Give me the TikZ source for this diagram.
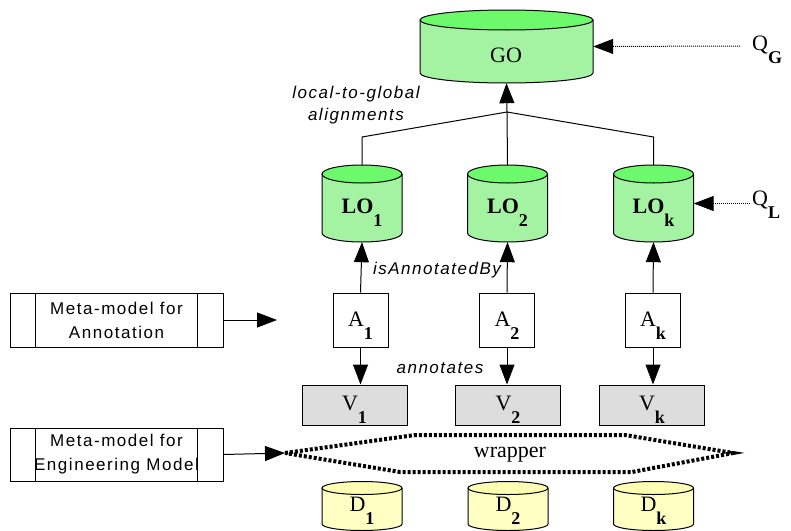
\documentclass[tikz,border=0pt]{standalone}
\usepackage{fontspec}
\setmainfont{Liberation Serif}
\newfontfamily\lsans[LetterSpace=9]{Liberation Sans}
\usetikzlibrary{arrows.meta}
\definecolor{gbody}{HTML}{A3F3A3}
\definecolor{gtop}{HTML}{6CF96C}
\definecolor{ybody}{HTML}{FFFFC4}
\definecolor{ytop}{HTML}{FFFFB4}
\definecolor{vgray}{HTML}{DDDDDD}
\newcommand\mycyl[8]{%
  \fill[#7] (#2-#5,#3) -- (#2-#5,#4) arc[start angle=180,end angle=360,x radius=#5pt,y radius=#6pt] -- (#2+#5,#3) -- cycle;
  \draw[line width=1pt] (#2-#5,#3) -- (#2-#5,#4) arc[start angle=180,end angle=360,x radius=#5pt,y radius=#6pt] -- (#2+#5,#3);
  \filldraw[line width=1pt,fill=#8] (#2,#3) ellipse[x radius=#5pt,y radius=#6pt];
  \node[inner sep=0pt,minimum width=(2*#5)*1pt,minimum height=(#4-#3+2*#6)*1pt] (#1) at (#2,{(#3+#4)/2}) {};%
}
\newcommand\sublab[2]{#1\raisebox{-13pt}{\fontsize{18}{18}\selectfont\bfseries #2}}
\begin{document}
\begin{tikzpicture}[x=1pt,y=-1pt,
  lab/.style={inner sep=0pt,font=\fontsize{22}{24}\selectfont},
  sl/.style={inner sep=0pt,font=\lsans\itshape\fontsize{17}{22}\selectfont},
  abox/.style={draw,line width=1pt,fill=white,minimum width=55pt,minimum height=54pt,inner sep=0pt},
  vbox/.style={draw,line width=1pt,fill=vgray,minimum width=105pt,minimum height=40pt,inner sep=0pt},
  mbox/.style={draw,line width=1pt,minimum width=213pt,inner sep=0pt,align=center,font=\lsans\fontsize{17}{24}\selectfont},
  conn/.style={line width=1pt},
  arr/.style={line width=1pt,-{Triangle[length=20pt,width=15pt]}},
  qarr/.style={line width=1pt,densely dotted,-{Triangle[length=20pt,width=15pt]}},
  wrap/.style={line width=4pt,dash pattern=on 3pt off 2pt}]
\useasboundingbox (0,0) rectangle (791,530);
% cylinders
\mycyl{GO}{506.5}{20}{73}{86.5}{10}{gbody}{gtop}
\node[lab] at (506,55) {GO};
\mycyl{LO1}{362}{174}{233}{40}{9}{gbody}{gtop}
\mycyl{LO2}{507.5}{174}{233}{40}{9}{gbody}{gtop}
\mycyl{LOk}{653.5}{174}{233}{40}{9}{gbody}{gtop}
\node[lab] at (362,213) {\sublab{\textbf{LO}}{1}};
\node[lab] at (507.5,213) {\sublab{\textbf{LO}}{2}};
\node[lab] at (653.5,213) {\sublab{\textbf{LO}}{k}};
\mycyl{D1}{362}{488}{524}{40}{6.5}{ybody}{ytop}
\mycyl{D2}{508}{488}{524}{40}{6.5}{ybody}{ytop}
\mycyl{Dk}{653.5}{488}{524}{40}{6.5}{ybody}{ytop}
\node[lab] at (362,511) {\sublab{D}{1}};
\node[lab] at (508,511) {\sublab{D}{2}};
\node[lab] at (653.5,511) {\sublab{D}{k}};
% A boxes
\node[abox] (A1) at (360.5,320) {};
\node[abox] (A2) at (507,320) {};
\node[abox] (Ak) at (653,320) {};
\node[lab] at (360.5,326) {\sublab{A}{1}};
\node[lab] at (507,326) {\sublab{A}{2}};
\node[lab] at (653,326) {\sublab{A}{k}};
% V boxes
\node[vbox] (V1) at (354.5,405) {};
\node[vbox] (V2) at (508,405) {};
\node[vbox] (Vk) at (652,405) {};
\node[lab] at (354.5,410) {\sublab{V}{1}};
\node[lab] at (508,410) {\sublab{V}{2}};
\node[lab] at (652,410) {\sublab{V}{k}};
% alignments
\coordinate (J) at (507,112);
\coordinate (b1) at (362,137);
\coordinate (bk) at (653.5,137);
\draw[conn] (LO1.north) -- (b1) -- (J);
\draw[conn] (LOk.north) -- (bk) -- (J);
\draw[conn] (LO2.north) -- (J);
\draw[arr] (J) -- (GO.south);
\node[sl,align=center] (ltg) at (356,105) {local-to-global\\alignments};
% queries
\node[lab,anchor=west] (QG) at (752,50) {\sublab{Q}{G}};
\node[lab,anchor=west] (QL) at (752,205) {\sublab{Q}{L}};
\coordinate (qg) at (740,46);
\coordinate (ql) at (750,203.5);
\draw[qarr] (qg) -- (GO.east);
\draw[qarr] (ql) -- (LOk.east);
% A -> LO, A -> V
\draw[arr] (A1.north) -- (LO1.south);
\draw[arr] (A2.north) -- (LO2.south);
\draw[arr] (Ak.north) -- (LOk.south);
\draw[arr] (A1.south) -- (A1.south |- V1.north);
\draw[arr] (A2.south) -- (A2.south |- V2.north);
\draw[arr] (Ak.south) -- (Ak.south |- Vk.north);
\node[sl] (iab) at (437,270) {isAnnotatedBy};
\node[sl] (ann) at (440,368) {annotates};
% meta-model boxes
\node[mbox,minimum height=54pt] (M1) at (116.5,320) {Meta-model for\\Annotation};
\draw[conn] ([xshift=26pt]M1.north west) -- ([xshift=26pt]M1.south west);
\draw[conn] ([xshift=-26pt]M1.north east) -- ([xshift=-26pt]M1.south east);
\coordinate (m1t) at (277,320);
\draw[arr] (M1.east) -- (m1t);
\node[mbox,minimum height=53pt] (M2) at (116.5,454.5) {Meta-model for\\Engineering Model};
\draw[conn] ([xshift=26pt]M2.north west) -- ([xshift=26pt]M2.south west);
\draw[conn] ([xshift=-26pt]M2.north east) -- ([xshift=-26pt]M2.south east);
% wrapper
\coordinate (wl) at (285,453);
\draw[wrap] (wl) -- (415,435) -- (625,435) -- (733,453) -- (632,472) -- (400,472) -- cycle;
\node[lab] (wr) at (510,455) {wrapper};
\draw[arr] (M2.east) -- (wl);
\end{tikzpicture}
\end{document}
